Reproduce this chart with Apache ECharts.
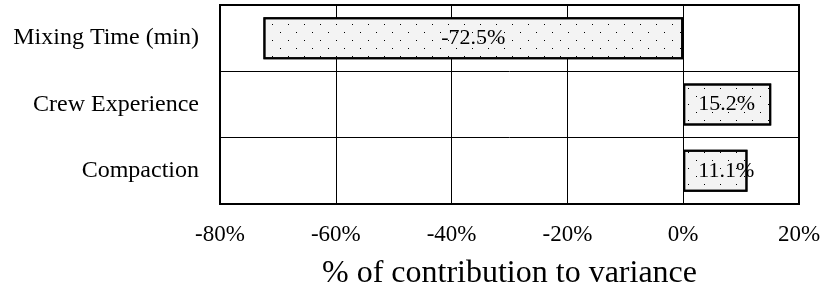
<!DOCTYPE html>
<html lang="en">

<head>
    <meta charset="UTF-8">
    <title>variance contribution</title>
    <style>
        html, body { margin: 0; padding: 0; background: #fff; }
    </style>
</head>

<body>
    <div id="main" style="width:822px;height:292px;"></div>
</body>
<script src="https://cdn.jsdelivr.net/npm/echarts@6/dist/echarts.min.js"></script>
<script>
    // data
    var factors = ['Mixing Time (min)', 'Crew Experience', 'Compaction']
    var contribution = [-72.5, 15.2, 11.1]
    var xTicks = [-80, -60, -40, -20, 0, 20]

    var serif = "'Liberation Serif', 'Times New Roman', serif"

    var barData = []
    for (var i = 0; i < contribution.length; i++) {
        var v = contribution[i]
        barData.push({
            value: v,
            label: v < 0 ? { position: 'inside' } : { position: 'insideLeft', distance: 15 }
        })
    }

    var myChart = echarts.init(document.getElementById('main'))
    var option = {
        animation: false,
        grid: {
            left: 220,
            right: 23,
            top: 5,
            bottom: 88,
            outerBoundsMode: 'none',
            show: true,
            borderColor: '#000',
            borderWidth: 2,
            backgroundColor: 'transparent'
        },
        xAxis: {
            type: 'value',
            min: xTicks[0],
            max: xTicks[xTicks.length - 1],
            interval: 20,
            name: '% of contribution to variance',
            nameLocation: 'middle',
            nameGap: 54,
            nameTextStyle: { fontFamily: serif, fontSize: 32, color: '#000' },
            axisLine: { show: false },
            axisTick: { show: false },
            axisLabel: {
                margin: 19,
                fontFamily: serif,
                fontSize: 23,
                color: '#000',
                formatter: function (v) { return v + '%' }
            },
            splitLine: { show: true, lineStyle: { color: '#000', width: 1 } }
        },
        yAxis: {
            type: 'category',
            data: factors,
            inverse: true,
            axisLine: { show: false },
            axisTick: { show: false },
            axisLabel: {
                margin: 21,
                fontFamily: serif,
                fontSize: 24,
                color: '#000'
            },
            splitLine: { show: true, lineStyle: { color: '#000', width: 1 } }
        },
        series: [{
            type: 'bar',
            data: barData,
            barWidth: 42,
            itemStyle: {
                color: '#f3f3f3',
                borderColor: '#000',
                borderWidth: 2,
                decal: {
                    symbol: 'rect',
                    symbolSize: 1,
                    color: '#000',
                    dashArrayX: [[1, 15], [0, 8, 1, 7]],
                    dashArrayY: [1, 7],
                    rotation: 0
                }
            },
            label: {
                show: true,
                fontFamily: serif,
                fontSize: 22,
                color: '#000',
                formatter: function (p) { return p.value.toFixed(1) + '%' }
            }
        }]
    }
    myChart.setOption(option)
</script>

</html>
